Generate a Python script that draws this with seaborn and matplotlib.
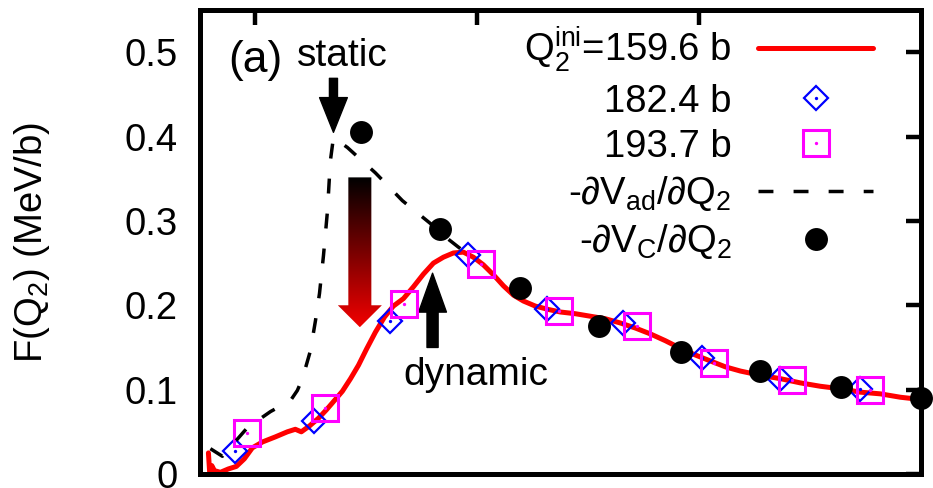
import numpy as np
import matplotlib
matplotlib.use("Agg")
import matplotlib.pyplot as plt
import seaborn as sns
from matplotlib.colors import LinearSegmentedColormap
from matplotlib.patches import Polygon
from matplotlib.legend_handler import HandlerTuple

# ---------------- data ----------------
q_red = [78.8, 79.7, 80.3, 81.5, 84.2, 87.8, 91.4, 95.0, 98.6, 103.2, 109.0, 114.4,
         118.0, 120.7, 124.4, 128.4, 132.0, 135.6, 139.2, 142.9, 146.5, 150.1, 154.1,
         158.2, 162.2, 166.8, 171.3, 175.8, 180.3, 184.8, 189.3, 193.8, 198.3, 202.8,
         207.4, 211.9, 216.4, 220.9, 226.3, 232.2, 237.6, 244.3, 251.1, 257.9, 264.6,
         271.4, 278.2, 284.9, 291.7, 298.5, 305.2, 312.0, 318.8, 327.8, 336.8, 345.8,
         354.8, 363.9, 372.9, 381.9, 390.9, 397.7]
f_red = [0.025, -0.012, 0.010, 0.004, 0.002, 0.006, 0.009, 0.018, 0.031, 0.038, 0.044, 0.050,
         0.053, 0.050, 0.057, 0.066, 0.076, 0.087, 0.098, 0.113, 0.129, 0.148, 0.168,
         0.186, 0.199, 0.208, 0.222, 0.237, 0.250, 0.257, 0.262, 0.263, 0.257, 0.248,
         0.236, 0.223, 0.212, 0.205, 0.199, 0.195, 0.192, 0.190, 0.187, 0.184, 0.179,
         0.173, 0.166, 0.158, 0.149, 0.141, 0.134, 0.127, 0.122, 0.117, 0.113, 0.108,
         0.104, 0.101, 0.097, 0.095, 0.091, 0.089]

q_diamond = [91.0, 126.2, 160.9, 196.1, 231.3, 266.0, 301.6, 336.8, 372.9]
f_diamond = [0.027, 0.063, 0.181, 0.259, 0.196, 0.179, 0.138, 0.113, 0.101]

q_square = [96.4, 131.6, 166.8, 201.9, 237.1, 272.3, 307.0, 342.2, 377.4]
f_square = [0.049, 0.078, 0.202, 0.249, 0.193, 0.176, 0.131, 0.112, 0.100]

q_ad = [79.7, 85.1, 96.4, 106.8, 115.8, 118.9, 121.2, 124.8, 127.1, 128.9, 130.7,
        132.5, 133.8, 135.2, 141.5, 154.1, 166.3, 178.9, 185.7, 192.5, 199.2]
f_ad = [0.030, 0.021, 0.055, 0.074, 0.087, 0.099, 0.113, 0.146, 0.182, 0.214, 0.259,
        0.312, 0.371, 0.399, 0.387, 0.357, 0.324, 0.297, 0.281, 0.267, 0.253]

q_coul = [147.6, 183.2, 219.5, 255.0, 292.0, 327.8, 364.2, 400.0]
f_coul = [0.405, 0.291, 0.221, 0.176, 0.145, 0.122, 0.103, 0.090]

labels = [r"Q$_{2}^{\mathregular{ini}}$=159.6 b", "182.4 b", "193.7 b",
          r"-$\partial$V$_{\mathregular{ad}}$/$\partial$Q$_{2}$",
          r"-$\partial$V$_{\mathregular{C}}$/$\partial$Q$_{2}$"]
y_ticks = [0, 0.1, 0.2, 0.3, 0.4, 0.5]
y_tick_labels = ["0", "0.1", "0.2", "0.3", "0.4", "0.5"]
x_ticks = [100, 200, 300]

# ---------------- style ----------------
sns.set_theme(style="white")
plt.rcParams["font.family"] = ["Liberation Sans", "DejaVu Sans"]
plt.rcParams["mathtext.fontset"] = "custom"
plt.rcParams["mathtext.rm"] = "Liberation Sans"
plt.rcParams["mathtext.it"] = "Liberation Sans:italic"
plt.rcParams["mathtext.sf"] = "Liberation Sans"
for key in ["text.color", "axes.labelcolor", "xtick.color", "ytick.color"]:
    plt.rcParams[key] = "black"

FS = 27.5
fig = plt.figure(figsize=(9.33, 4.88), dpi=100)
ax = fig.add_axes([200 / 933, 14 / 488, 720.5 / 933, 464 / 488])

# red line
sns.lineplot(x=q_red, y=f_red, color="#ff0000", lw=3.6, sort=False, estimator=None,
             ax=ax, zorder=2)
h_red = ax.lines[-1]
# diamonds
sns.lineplot(x=q_diamond, y=f_diamond, color="#0000ff", linestyle="none", marker="D",
             ms=12.5, mfc="none", mec="#0000ff", mew=1.6, sort=False, estimator=None,
             ax=ax, zorder=3)
h_dia = ax.lines[-1]
sns.lineplot(x=q_diamond, y=f_diamond, color="#0000ff", linestyle="none", marker="o",
             ms=2.4, mec="#0000ff", mew=0, sort=False, estimator=None, ax=ax, zorder=3)
h_dia_dot = ax.lines[-1]
# squares
sns.lineplot(x=q_square, y=f_square, color="#ff00ff", linestyle="none", marker="s",
             ms=18.5, mfc="none", mec="#ff00ff", mew=2.2, sort=False, estimator=None,
             ax=ax, zorder=4)
h_sq = ax.lines[-1]
sns.lineplot(x=q_square, y=f_square, color="#ff00ff", linestyle="none", marker="o",
             ms=2.4, mec="#ff00ff", mew=0, sort=False, estimator=None, ax=ax, zorder=4)
h_sq_dot = ax.lines[-1]
# dashed adiabatic
sns.lineplot(x=q_ad, y=f_ad, color="black", lw=2.5, linestyle=(0, (4.3, 5.8)),
             sort=False, estimator=None, ax=ax, zorder=5)
h_ad = ax.lines[-1]
# black dots
sns.lineplot(x=q_coul, y=f_coul, color="black", linestyle="none", marker="o", ms=16.5,
             mec="black", mew=0, sort=False, estimator=None, ax=ax, zorder=6)
h_coul = ax.lines[-1]
h_coul.set_clip_on(False)

# gradient arrow (static -> dynamic)
cx, hs, hh = 147.1, 5.19, 9.93
top, base, tip = 0.3516, 0.200, 0.174
poly = Polygon([(cx - hs, top), (cx + hs, top), (cx + hs, base), (cx + hh, base),
                (cx, tip), (cx - hh, base), (cx - hs, base)], closed=True,
               facecolor="none", edgecolor="none")
ax.add_patch(poly)
grad = np.linspace(0, 1, 256).reshape(-1, 1)
cmap = LinearSegmentedColormap.from_list("br", ["#000000", "#f20000"])
im = ax.imshow(grad, cmap=cmap, extent=[cx - hh, cx + hh, tip, top], origin="upper",
               aspect="auto", zorder=1.5, interpolation="bilinear")
im.set_clip_path(poly)

# black arrows
ax.annotate("", xy=(135.2, 0.405), xytext=(135.2, 0.469),
            arrowprops=dict(arrowstyle="simple,head_length=25,head_width=20,tail_width=5.8",
                            mutation_scale=1, color="black", shrinkA=0, shrinkB=0))
ax.annotate("", xy=(179.9, 0.238), xytext=(179.9, 0.150),
            arrowprops=dict(arrowstyle="simple,head_length=28,head_width=20,tail_width=8",
                            mutation_scale=1, color="black", shrinkA=0, shrinkB=0))

ax.text(87.8, 0.477, "(a)", fontsize=32, ha="left", va="baseline")
ax.text(118.9, 0.484, "static", fontsize=28, ha="left", va="baseline")
ax.text(166.8, 0.105, "dynamic", fontsize=28, ha="left", va="baseline")

# axes
ax.set_xlim(75, 400)
ax.set_ylim(0, 0.55)
ax.set_xticks(x_ticks)
ax.set_xticklabels([])
ax.set_yticks(y_ticks)
ax.set_yticklabels(y_tick_labels)
ax.tick_params(direction="in", top=True, right=True, length=11, width=3.2,
               labelsize=FS, pad=16, color="black", labelcolor="black")
for s in ax.spines.values():
    s.set_linewidth(3.6)
    s.set_color("black")
ax.set_xlabel("")
ax.set_ylabel(r"F(Q$_2$) (MeV/b)", fontsize=FS, color="black")
ax.yaxis.set_label_coords(-0.205, 0.5)

leg = ax.legend(handles=[h_red, (h_dia, h_dia_dot), (h_sq, h_sq_dot), h_ad, h_coul],
                labels=labels, loc="upper right", bbox_to_anchor=(0.934, 0.968),
                markerfirst=False, frameon=False, fontsize=FS, handlelength=3,
                handletextpad=0.7, labelspacing=0.24, borderpad=0, borderaxespad=0,
                handler_map={tuple: HandlerTuple(ndivide=1)})
for t in leg.get_texts():
    t.set_color("black")

fig.savefig("out.png", dpi=100)
